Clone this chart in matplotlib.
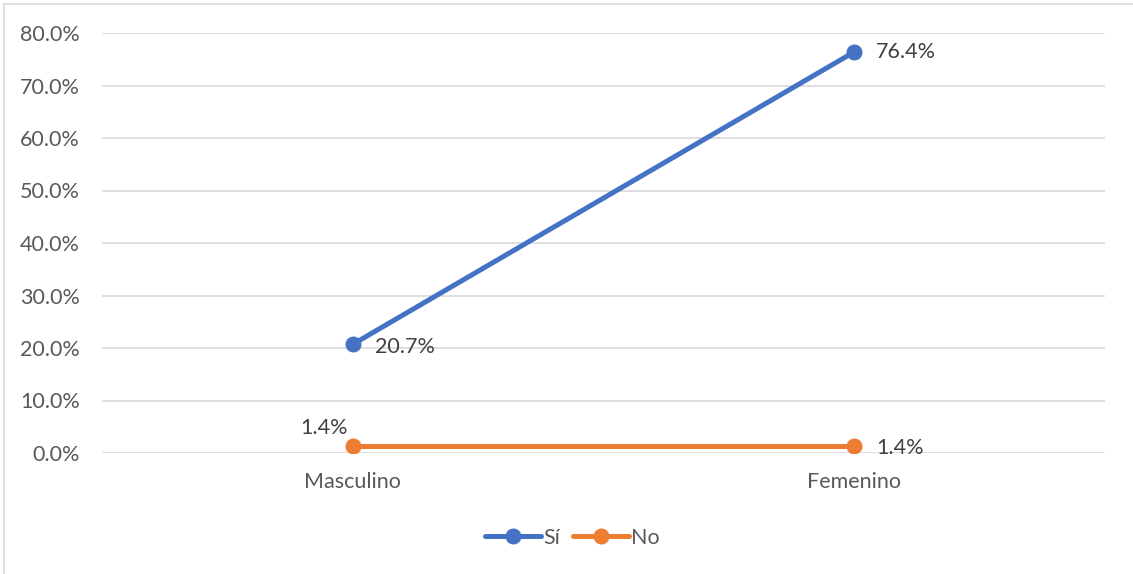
import matplotlib
matplotlib.use("Agg")
import matplotlib.pyplot as plt
from matplotlib.patches import Rectangle
from matplotlib.ticker import FuncFormatter

categories = ["Masculino", "Femenino"]
si_values = [0.207, 0.764]
no_values = [0.014, 0.014]
series_names = ["Sí", "No"]
yticks = [0.0, 0.1, 0.2, 0.3, 0.4, 0.5, 0.6, 0.7, 0.8]

BLUE = "#4472C4"
ORANGE = "#ED7D31"
TXT = "#595959"
GRID = "#D9D9D9"
FS = 15.5

plt.rcParams['font.family'] = ['Lato', 'DejaVu Sans']

fig = plt.figure(figsize=(11.33, 5.74), dpi=100)
fig.patches.append(Rectangle((4/1133, -0.1), 1.2, 1 - 4/574 + 0.1, transform=fig.transFigure,
                             fill=False, edgecolor="#D9D9D9", linewidth=1.2))
ax = fig.add_axes([102/1133, 1 - 453/574, 1003/1133, 420/574])

x = list(range(len(categories)))
l1, = ax.plot(x, si_values, color=BLUE, lw=3.6, marker="o", markersize=10.5, solid_capstyle="round", zorder=3)
l2, = ax.plot(x, no_values, color=ORANGE, lw=3.6, marker="o", markersize=10.5, solid_capstyle="round", zorder=3)

ax.set_xlim(-0.5, 1.5)
ax.set_ylim(0, 0.8)
ax.set_yticks(yticks)
ax.yaxis.set_major_formatter(FuncFormatter(lambda v, p: f"{v*100:.1f}%"))
ax.set_xticks(x)
ax.set_xticklabels(categories)
ax.grid(axis="y", color=GRID, lw=1.2)
ax.set_axisbelow(True)
for s in ax.spines.values():
    s.set_visible(False)
ax.tick_params(axis="both", length=0, colors=TXT, labelsize=FS)
ax.tick_params(axis="y", pad=16)
ax.tick_params(axis="x", pad=14)

def fmt(v):
    return f"{v*100:.1f}%"

ax.annotate(fmt(si_values[0]), (x[0], si_values[0]), xytext=(22, -3), textcoords="offset pixels",
            ha="left", va="center", fontsize=FS, color="#404040")
ax.annotate(fmt(si_values[1]), (x[1], si_values[1]), xytext=(22, 0), textcoords="offset pixels",
            ha="left", va="center", fontsize=FS, color="#404040")
ax.annotate(fmt(no_values[0]), (x[0], no_values[0]), xytext=(-29, 18), textcoords="offset pixels",
            ha="center", va="center", fontsize=FS, color="#404040")
ax.annotate(fmt(no_values[1]), (x[1], no_values[1]), xytext=(22, -2), textcoords="offset pixels",
            ha="left", va="center", fontsize=FS, color="#404040")

leg = fig.legend([l1, l2], series_names, loc="center", bbox_to_anchor=(572/1133, 1 - 538/574),
                 ncol=2, frameon=False, fontsize=FS, handlelength=2.6, columnspacing=0.6,
                 handletextpad=0.1, labelcolor=TXT)

fig.savefig("out.png", dpi=100)
